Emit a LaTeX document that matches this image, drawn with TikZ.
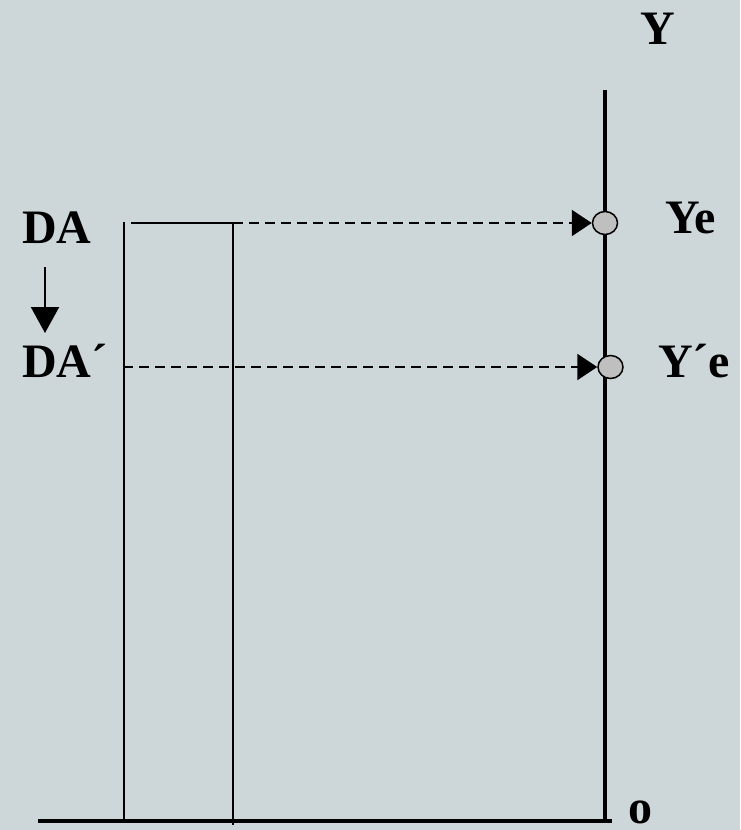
\documentclass[tikz,border=0pt]{standalone}
\usepackage{fontspec}
\setmainfont{Liberation Serif}
\usetikzlibrary{arrows.meta,shapes.geometric}
\definecolor{bgc}{RGB}{205,215,218}
\definecolor{dotc}{RGB}{191,191,191}
\begin{document}
\begin{tikzpicture}[x=1pt,y=-1pt,
  lbl/.style={anchor=base west,inner sep=0pt,font=\fontsize{48}{50}\selectfont\bfseries},
  axisline/.style={line width=4.5pt},
  thinline/.style={line width=2pt},
  dashline/.style={line width=2.5pt,dash pattern=on 10pt off 6pt,-{Triangle[width=26pt,length=20pt]}},
  dot/.style={ellipse,draw,line width=1.5pt,fill=dotc,minimum width=25pt,minimum height=23pt,inner sep=0pt},
  downarrow/.style={line width=2pt,-{Triangle[width=28pt,length=26pt]}}]
\fill[bgc] (0,0) rectangle (740,830);
\useasboundingbox (0,0) rectangle (740,830);
% labels
\node[lbl] (ylab) at (640,44) {Y};
\node[lbl] (da) at (22,243) {DA};
\node[lbl] (dap) at (22,377) {DA´};
\node[lbl] (ye) at (665,233) {Ye};
\node[lbl] (yep) at (658,377) {Y´e};
\node[lbl] (zero) at (628,823) {o};
% coordinates
\coordinate (ytop) at (605,90);
\coordinate (origin) at (605,821);
\coordinate (xleft) at (38,821);
\coordinate (v1top) at (124,222);
\coordinate (v1bot) at (124,821);
\coordinate (v2top) at (233,223);
\coordinate (v2bot) at (233,825);
\coordinate (hstart) at (131,223);
\coordinate (d2start) at (123,367);
\coordinate (arrtop) at (45,267);
\coordinate (arrbot) at (45,333);
% axes
\draw[axisline] (ytop) -- (origin);
\draw[axisline] (xleft) -- ([xshift=7pt]origin);
% thin lines
\draw[thinline] (v1top) -- (v1bot);
\draw[thinline] (v2top) -- (v2bot);
\draw[thinline] (hstart) -- (v2top);
% circles
\node[dot] (c1) at (605,223) {};
\node[dot] (c2) at (610.5,367) {};
% dashed arrows
\draw[dashline] (v2top) -- (c1.west);
\draw[dashline] (d2start) -- (c2.west);
% down arrow
\draw[downarrow] (arrtop) -- (arrbot);
\end{tikzpicture}
\end{document}
